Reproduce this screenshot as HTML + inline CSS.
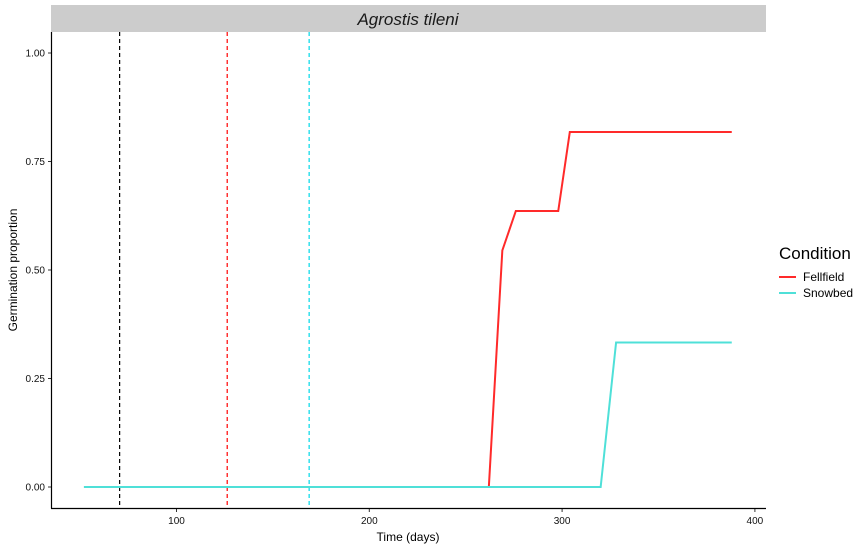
<!DOCTYPE html>
<html><head><meta charset="utf-8"><style>
body{margin:0;background:#fff;}
svg{font-family:"Liberation Sans",sans-serif;}
</style></head><body>
<svg width="866" height="550" xmlns="http://www.w3.org/2000/svg">
<rect x="51" y="5" width="715" height="27" fill="#cccccc"/>
<text x="408" y="25" font-size="17" font-style="italic" text-anchor="middle" fill="#1a1a1a">Agrostis tileni</text>
<g id="plot"></g>
<line x1="51.5" y1="32" x2="51.5" y2="508.5" stroke="#000" stroke-width="1.2"/>
<line x1="51" y1="508.5" x2="766" y2="508.5" stroke="#000" stroke-width="1.2"/>
<text x="408" y="541" font-size="12" text-anchor="middle">Time (days)</text>
<text x="17" y="270" font-size="12" text-anchor="middle" transform="rotate(-90 17 270)">Germination proportion</text>
<g>
<text x="779" y="259" font-size="17">Condition</text>
<line x1="779" y1="277" x2="796" y2="277" stroke="#ff2a2a" stroke-width="2"/>
<text x="803" y="281" font-size="12">Fellfield</text>
<line x1="779" y1="293" x2="796" y2="293" stroke="#4fe0d8" stroke-width="2"/>
<text x="803" y="297" font-size="12">Snowbed</text>
</g>
</svg>
<script>
const xTicks=[100,200,300,400];
const yTicks=[0,0.25,0.5,0.75,1];
const yLabels=["0.00","0.25","0.50","0.75","1.00"];
const fellT=[52,262,269,276,298,304,388];
const fellP=[0,0,0.545,0.636,0.636,0.818,0.818];
const snowT=[52,320,328,388];
const snowP=[0,0,0.333,0.333];
const vlines=[70.5,126.3,168.8];
const vlineColors=["#000000","#ff0000","#00d8e8"];
const X=v=>176.5+(v-100)*1.928;
const Y=v=>487-v*434;
const g=document.getElementById('plot');
const NS="http://www.w3.org/2000/svg";
function mk(t,a){const e=document.createElementNS(NS,t);for(const k in a)e.setAttribute(k,a[k]);g.appendChild(e);return e;}
xTicks.forEach(v=>{
 const l=mk('line',{x1:X(v),x2:X(v),y1:508.5,y2:512,stroke:'#333'});
 
 
 const t=mk('text',{x:X(v),y:524,'font-size':10,'text-anchor':'middle',fill:'#111'});t.textContent=v;
 
 
});
yTicks.forEach((v,i)=>{
 const l=mk('line',{x1:48,x2:51.5,y1:Y(v),y2:Y(v),stroke:'#333'});
 
 
 const t=mk('text',{x:45,y:Y(v)+3.5,'font-size':10,'text-anchor':'end',fill:'#111'});t.textContent=yLabels[i];
 
 
});
vlines.forEach((v,i)=>{
 const l=mk('line',{x1:X(v),x2:X(v),y1:32,y2:508,stroke:vlineColors[i],'stroke-width':1.2,'stroke-dasharray':'4,3'});
 
 
});
function line(T,P,c,n){
 const p=mk('polyline',{points:T.map((t,i)=>X(t)+','+Y(P[i])).join(' '),fill:'none',stroke:c,'stroke-width':2});
 
 
}
line(fellT,fellP,'#ff2a2a','fellfield-line');
line(snowT,snowP,'#4fe0d8','snowbed-line');
</script>
</body></html>
